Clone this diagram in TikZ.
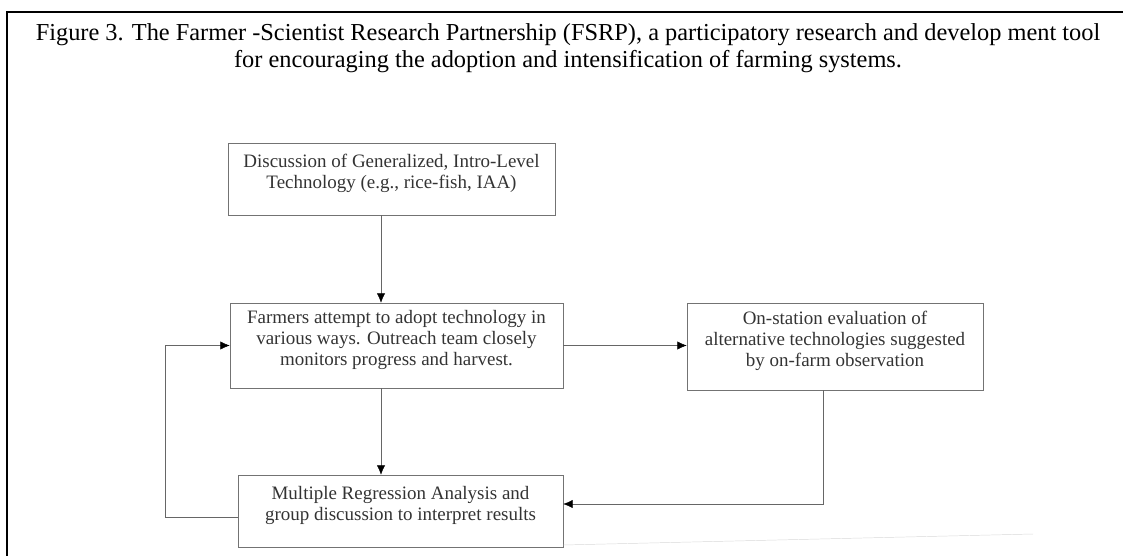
\documentclass[tikz,border=0pt]{standalone}
\usepackage{fontspec}
\setmainfont{Liberation Serif}
\usetikzlibrary{arrows.meta}

\begin{document}
\begin{tikzpicture}[x=0.03cm, y=-0.03cm,
    box/.style={draw=black!55, text=black!80, align=center, inner sep=0pt,
      text depth=13pt, font=\fontsize{16.2}{18}\selectfont},
    link/.style={draw=black!60, -{Latex[black, length=8pt, width=7pt]}}]
  \clip (0,0) rectangle (1123,555);
  \useasboundingbox (0,0) rectangle (1123,555);
  % frame and caption
  \draw[line width=1.6pt] (7,580) -- (7,12) -- (1140,12);
  \node (title) at (568,48) [align=center, font=\fontsize{20.8}{23}\selectfont]
    {Figure 3. The Farmer -Scientist Research Partnership (FSRP), a participatory research and develop ment tool\\
     for encouraging the adoption and intensification of farming systems.};
  % boxes
  \node (disc) at (391.5,179) [box, minimum width=9.81cm, minimum height=2.16cm]
    {Discussion of Generalized, Intro-Level\\Technology (e.g., rice-fish, IAA)};
  \node (adopt) at (396.5,345.5) [box, minimum width=9.99cm, minimum height=2.55cm]
    {Farmers attempt to adopt technology in\\various ways. Outreach team closely\\monitors progress and harvest.};
  \node (station) at (835,346.5) [box, minimum width=8.88cm, minimum height=2.61cm]
    {On-station evaluation of\\alternative technologies suggested\\by on-farm observation};
  \node (regr) at (400.5,511) [box, minimum width=9.75cm, minimum height=2.16cm]
    {Multiple Regression Analysis and\\group discussion to interpret results};
  % connectors
  \coordinate (col) at (381,0);
  \coordinate (ret) at (823,504);
  \coordinate (loop) at (165,517);
  \draw[link] (disc.south -| col) -- (adopt.north -| col);
  \draw[link] (adopt.south -| col) -- (regr.north -| col);
  \draw[link] (adopt.east) -- (adopt.east -| station.west);
  \draw[link] (station.south -| ret) -- (ret) -- (ret -| regr.east);
  \draw[link] (loop -| regr.west) -- (loop) |- (adopt.west);
  % faint scan line
  \draw[black!15] (563,545) -- (1033,534);
\end{tikzpicture}
\end{document}
